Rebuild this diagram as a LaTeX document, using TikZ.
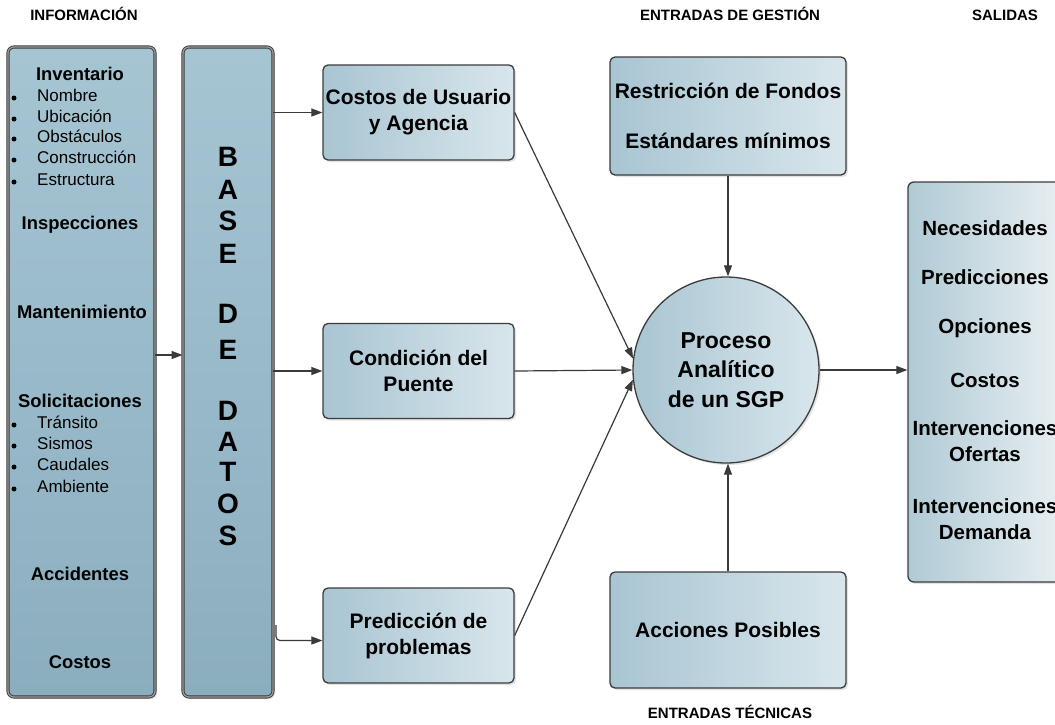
\documentclass[tikz,border=0pt]{standalone}
\usepackage{fontspec}
\setmainfont{Liberation Sans}
\usetikzlibrary{arrows.meta,shadows}
\definecolor{boxc}{HTML}{3C3C3C}
\definecolor{linec}{HTML}{3A3A3A}
\definecolor{midA}{HTML}{A8C5D2}
\definecolor{midB}{HTML}{D9E6EC}
\definecolor{sideA}{HTML}{A6C5D3}
\definecolor{sideB}{HTML}{8BAEBF}
\definecolor{salA}{HTML}{B0CAD5}
\definecolor{salB}{HTML}{E9F0F3}
\definecolor{dbl}{HTML}{9A9A9A}
\begin{document}
\begin{tikzpicture}[x=1pt,y=-1pt,
  arr/.style={draw=linec, line width=1.2pt, -{Triangle[length=11pt,width=8pt]}},
  shd/.style={drop shadow={opacity=0.22, shadow xshift=2pt, shadow yshift=-2pt}},
  midbox/.style={shd, draw=boxc, line width=1.3pt, rounded corners=5pt,
    left color=midA, right color=midB, minimum width=191pt, minimum height=95pt,
    inner sep=0pt, align=center, font=\bfseries\fontsize{21}{26}\selectfont},
  sidebox/.style={shd, draw=boxc, line width=0.9pt, double=dbl, double distance=1.3pt,
    rounded corners=6pt, top color=sideA, bottom color=sideB, inner sep=0pt},
  lbl/.style={font=\bfseries\fontsize{18.4}{22}\selectfont, inner sep=0pt, text height=0.72em, text depth=0pt},
  item/.style={font=\fontsize{17}{20}\selectfont, anchor=west, inner sep=0pt, text height=0.72em, text depth=0pt},
  ttl/.style={font=\bfseries\fontsize{15}{18}\selectfont, inner sep=0pt, text height=0.72em, text depth=0pt},
  bdl/.style={font=\bfseries\fontsize{28}{30}\selectfont, inner sep=0pt, text height=0.72em, text depth=0pt},
  sal/.style={font=\bfseries\fontsize{20.5}{26}\selectfont, inner sep=0pt, align=center}
]
\useasboundingbox (0,0) rectangle (1055,724);
\clip (0,0) rectangle (1055,724);
\fill[white] (0,0) rectangle (1055,724);

% titles
\node[ttl] (t1) at (84,17) {INFORMACIÓN};
\node[ttl] (t2) at (730,17) {ENTRADAS DE GESTIÓN};
\node[ttl] (t3) at (1005,17) {SALIDAS};
\node[ttl] (t4) at (730,715) {ENTRADAS TÉCNICAS};

% left info box
\node[sidebox, minimum width=147pt, minimum height=650pt] (info) at (81.5,372) {};
\node[sidebox, minimum width=90pt, minimum height=650pt] (bd) at (228,372) {};

\node[lbl] (inv) at (80,77) {Inventario};
\foreach \t/\yy [count=\i] in {Nombre/98,Ubicación/119,Obstáculos/139,Construcción/160,Estructura/182}{
  \fill (14,\yy) circle[radius=2.5pt];
  \node[item] (inv\i) at (37,\yy) {\t};
}
\node[lbl] (insp) at (80,226) {Inspecciones};
\node[lbl] (mant) at (82,315) {Mantenimiento};
\node[lbl] (soli) at (80,404) {Solicitaciones};
\foreach \t/\yy [count=\i] in {Tránsito/425,Sismos/446,Caudales/467,Ambiente/489}{
  \fill (14,\yy) circle[radius=2.5pt];
  \node[item] (sol\i) at (37,\yy) {\t};
}
\node[lbl] (acci) at (80,577) {Accidentes};
\node[lbl] (cost) at (80,665) {Costos};

% BASE DE DATOS letters
\foreach \t/\yy [count=\i] in {B/163,A/196,S/227,E/260,D/320,E/356,D/417,A/448,T/478,O/510,S/542}{
  \node[bdl] (bd\i) at (228,\yy) {\t};
}

% middle boxes
\node[midbox] (cu) at (418.5,112.5) {Costos de Usuario\\y Agencia};
\node[midbox] (cp) at (418.5,371) {Condición del\\Puente};
\node[midbox] (pp) at (418.5,635.5) {Predicción de\\problemas};

\node[midbox, minimum width=236pt, minimum height=118pt, font=\bfseries\fontsize{21}{50}\selectfont] (rf) at (728,116) {Restricción de Fondos\\Estándares mínimos};
\node[midbox, minimum width=236pt, minimum height=116pt] (ap) at (728,630) {Acciones Posibles};

% circle
\node[shd, circle, draw=boxc, line width=1.3pt, left color=midA, right color=midB,
  minimum size=186pt, inner sep=0pt, align=center,
  font=\bfseries\fontsize{23}{29.5}\selectfont] (sgp) at (726,370) {Proceso\\Analítico\\de un SGP};

% salidas box
\node[shd, draw=boxc, line width=1.3pt, rounded corners=6pt, left color=salA, right color=salB,
  minimum width=160pt, minimum height=400pt, inner sep=0pt] (salbox) at (988,382) {};
\node[sal] (s1) at (985,228) {Necesidades};
\node[sal] (s2) at (985,277) {Predicciones};
\node[sal] (s3) at (985,328) {Opciones};
\node[sal] (s4) at (985,380) {Costos};
\node[sal] (s5) at (985,441) {Intervenciones\\Ofertas};
\node[sal] (s6) at (985,519) {Intervenciones\\Demanda};

% connectors
\coordinate (c1) at (155,355);
\draw[arr] (c1) -- (c1 -| bd.west);
\draw[arr] (bd.east |- cu.west) -- (cu.west);
\draw[arr] (bd.east |- cp.west) -- (cp.west);
\coordinate (c2) at (276,625);
\draw[arr, rounded corners=4pt] (c2) |- ([yshift=-5pt]pp.west);
\draw[arr] (cu.east) -- (sgp.173);
\draw[arr] (cp.east) -- (sgp.west);
\draw[arr] (pp.east) -- (sgp.186);
\draw[arr] (rf.south) -- (rf.south |- sgp.north);
\draw[arr] (ap.north) -- (ap.north |- sgp.south);
\draw[arr] (sgp.east) -- (sgp.east -| salbox.west);
\end{tikzpicture}
\end{document}
